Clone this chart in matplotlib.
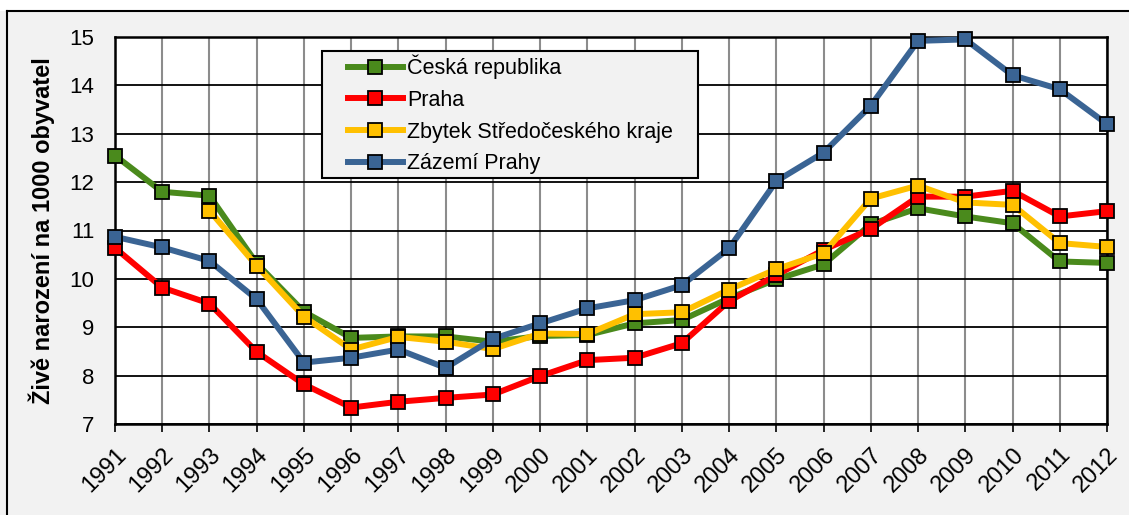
import numpy as np
import matplotlib
matplotlib.use("Agg")
import matplotlib.pyplot as plt
from matplotlib.patches import Rectangle
from matplotlib.lines import Line2D
from matplotlib.legend_handler import HandlerLine2D

plt.rcParams['font.family'] = ['Liberation Sans', 'DejaVu Sans']
plt.rcParams['xtick.labelsize'] = 17
plt.rcParams['ytick.labelsize'] = 16

years = list(range(1991, 2013))
nan = np.nan
cr = [12.55, 11.80, 11.72, 10.32, 9.32, 8.78, 8.81, 8.81, 8.70, 8.82, 8.84,
      9.08, 9.15, 9.60, 9.99, 10.30, 11.13, 11.46, 11.29, 11.15, 10.36, 10.33]
praha = [10.64, 9.82, 9.49, 8.49, 7.82, 7.34, 7.46, 7.54, 7.61, 7.99, 8.32,
         8.37, 8.67, 9.54, 10.08, 10.60, 11.03, 11.70, 11.70, 11.82, 11.29, 11.40]
zbytek = [nan, nan, 11.41, 10.27, 9.22, 8.54, 8.80, 8.70, 8.55, 8.87, 8.86,
          9.27, 9.31, 9.78, 10.20, 10.53, 11.66, 11.93, 11.58, 11.53, 10.74, 10.66]
zazemi = [10.87, 10.65, 10.37, 9.58, 8.27, 8.37, 8.54, 8.16, 8.76, 9.08, 9.39,
          9.56, 9.87, 10.63, 12.02, 12.61, 13.58, 14.92, 14.95, 14.21, 13.92, 13.20]

labels = ['Česká republika', 'Praha', 'Zbytek Středočeského kraje', 'Zázemí Prahy']
colors = ['#4a8a1c', '#ff0000', '#ffc000', '#3a6494']
series = [cr, praha, zbytek, zazemi]

W, H = 1129, 515
fig = plt.figure(figsize=(W / 100, H / 100), dpi=100)
fig.patch.set_facecolor('#f2f2f2')
# white strip on top + frame lines
fig.patches.append(Rectangle((0, 1 - 11 / H), 1, 11 / H, transform=fig.transFigure,
                             facecolor='white', edgecolor='none', zorder=0))
fig.lines.append(Line2D([7 / W, 1], [1 - 11 / H, 1 - 11 / H], transform=fig.transFigure,
                        color='black', lw=1.5))
fig.lines.append(Line2D([7 / W, 7 / W], [0, 1 - 11 / H], transform=fig.transFigure,
                        color='black', lw=1.5))

ax = fig.add_axes([115 / W, 91 / H, 992 / W, 387 / H])
ax.set_facecolor('white')

for s, c, l in zip(series, colors, labels):
    ax.plot(years, s, color=c, lw=4.3, marker='s', markersize=10,
            markerfacecolor=c, markeredgecolor='black', markeredgewidth=1.3,
            label=l, clip_on=False, zorder=3)

ax.set_xlim(1991, 2012)
ax.set_ylim(7, 15)
ax.set_xticks(years)
ax.set_xticklabels([str(y) for y in years])
for t in ax.get_xticklabels():
    t.set_rotation(45)
    t.set_ha('right')
    t.set_va('top')
    t.set_rotation_mode('anchor')
ax.set_yticks(range(7, 16))
ax.tick_params(axis='y', length=0, pad=15)
ax.tick_params(axis='x', length=6, width=1.2, direction='out', pad=8)

ax.grid(axis='y', color='black', lw=1.3)
ax.grid(axis='x', color='#8c8c8c', lw=1.5)
ax.set_axisbelow(True)
for sp in ax.spines.values():
    sp.set_linewidth(1.8)
    sp.set_color('black')

ax.set_ylabel('Živě narození na 1000 obyvatel', fontsize=17, fontweight='bold', labelpad=10)

fs = 15.5
leg = ax.legend(loc='upper left',
                bbox_to_anchor=(322 / W, 1 - 170 / H, 376 / W, 119 / H),
                bbox_transform=fig.transFigure, mode='expand', fontsize=fs,
                frameon=True, fancybox=False, facecolor='#f2f2f2', edgecolor='black',
                framealpha=1, handlelength=3.6, labelspacing=0.5,
                borderpad=0.17, handletextpad=0.2, borderaxespad=0,
                handler_map={Line2D: HandlerLine2D(xpad=1.03)})
leg.get_frame().set_linewidth(1.5)

fig.savefig('out.png', dpi=100, facecolor=fig.get_facecolor())
